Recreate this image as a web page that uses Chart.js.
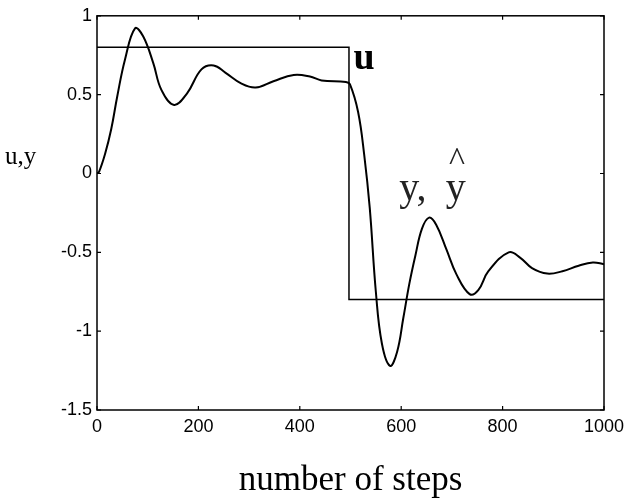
<!DOCTYPE html>
<html><head><meta charset="utf-8">
<script src="https://cdn.jsdelivr.net/npm/chart.js@4/dist/chart.umd.min.js"></script>
<style>html,body{margin:0;padding:0;background:#fff}#wrap{width:632px;height:502px}</style>
</head><body><div id="wrap"><canvas id="c" width="632" height="502"></canvas></div>
<script>
// ---- data ----
const steps   = [0,4,16,28,40,55,75,91,111,127,152,178,206,230,253,285,313,348,388,420,443,491,499,515,527,538,550,562,578,592,604,616,628,641,655,669,689,709,735,752,772,812,835,858,888,918,950,978,1000];
const yValues = [0,0.01,0.125,0.28,0.49,0.72,0.92,0.87,0.70,0.53,0.435,0.51,0.66,0.685,0.64,0.57,0.545,0.585,0.625,0.615,0.59,0.58,0.565,0.39,0.12,-0.22,-0.75,-1.08,-1.22,-1.13,-0.92,-0.70,-0.52,-0.35,-0.28,-0.325,-0.48,-0.64,-0.765,-0.74,-0.62,-0.50,-0.535,-0.60,-0.635,-0.62,-0.585,-0.565,-0.575];
const uSteps  = [0,497,497,1000];
const uValues = [0.8,0.8,-0.8,-0.8];
const xTicks  = [0,200,400,600,800,1000];
const yTicks  = [-1.5,-1,-0.5,0,0.5,1];
const xTickLabels = ['0','200','400','600','800','1000'];
const yTickLabels = ['-1.5','-1','-0.5','0','0.5','1'];
const xTitle  = 'number of steps';
const yTitle  = 'u,y';

const SANS = '"Liberation Sans", Arial, sans-serif';
const SERIF = '"Liberation Serif", "Times New Roman", serif';

const framePlugin = {
  id: 'frame',
  afterDraw(chart) {
    const {ctx, chartArea: a, scales: {x, y}} = chart;
    ctx.save();
    ctx.strokeStyle = '#000';
    ctx.lineWidth = 1.5;
    ctx.strokeRect(a.left, a.top, a.right - a.left, a.bottom - a.top);
    ctx.lineWidth = 1.2;
    const L = 4;
    ctx.beginPath();
    xTicks.forEach(v => {
      const px = x.getPixelForValue(v);
      ctx.moveTo(px, a.bottom); ctx.lineTo(px, a.bottom - L);
      ctx.moveTo(px, a.top); ctx.lineTo(px, a.top + L);
    });
    yTicks.forEach(v => {
      const py = y.getPixelForValue(v);
      ctx.moveTo(a.left, py); ctx.lineTo(a.left + L, py);
      ctx.moveTo(a.right, py); ctx.lineTo(a.right - L, py);
    });
    ctx.stroke();

    ctx.fillStyle = '#000';
    ctx.textAlign = 'left';
    ctx.textBaseline = 'alphabetic';
    // y axis label (horizontal)
    ctx.font = '25px ' + SERIF;
    ctx.fillText(yTitle, 5, 164);
    // annotations
    ctx.font = 'bold 38px ' + SERIF;
    ctx.fillText('u', x.getPixelForValue(506), y.getPixelForValue(0.66));
    ctx.fillStyle = '#222';
    ctx.font = '40px ' + SERIF;
    ctx.fillText('y,', x.getPixelForValue(596), y.getPixelForValue(-0.168));
    ctx.fillText('y', x.getPixelForValue(688), y.getPixelForValue(-0.168));
    ctx.textAlign = 'center';
    ctx.font = '34px ' + SERIF;
    ctx.fillText('^', x.getPixelForValue(710), y.getPixelForValue(0.02));
    ctx.restore();
  }
};

new Chart(document.getElementById('c'), {
  type: 'line',
  data: {
    datasets: [
      {
        label: 'u',
        data: uSteps.map((s, i) => ({x: s, y: uValues[i]})),
        borderColor: '#000', borderWidth: 1.5, pointRadius: 0, tension: 0, fill: false
      },
      {
        label: 'y',
        data: steps.map((s, i) => ({x: s, y: yValues[i]})),
        borderColor: '#000', borderWidth: 2, pointRadius: 0,
        tension: 0.4, fill: false
      }
    ]
  },
  options: {
    responsive: false,
    devicePixelRatio: 1,
    animation: false,
    layout: {padding: {top: 12, right: 28, left: 0, bottom: 0}},
    plugins: {legend: {display: false}, tooltip: {enabled: false}},
    scales: {
      x: {
        type: 'linear', min: 0, max: 1000,
        afterBuildTicks: s => { s.ticks = xTicks.map(v => ({value: v})); },
        afterFit: s => { s.height = 92; },
        grid: {display: false, drawTicks: false},
        border: {display: false},
        ticks: {color: '#000', font: {family: SANS, size: 18}, padding: 6, maxRotation: 0, autoSkip: false,
                callback: (v) => xTickLabels[xTicks.indexOf(v)]},
        title: {display: true, text: xTitle, color: '#000', font: {family: SERIF, size: 35}, padding: {top: 0, bottom: 0}}
      },
      y: {
        type: 'linear', min: -1.5, max: 1,
        afterBuildTicks: s => { s.ticks = yTicks.map(v => ({value: v})); },
        afterFit: s => { s.width = 97; },
        grid: {display: false, drawTicks: false},
        border: {display: false},
        ticks: {color: '#000', font: {family: SANS, size: 18}, padding: 5,
                callback: (v) => yTickLabels[yTicks.indexOf(v)]}
      }
    }
  },
  plugins: [framePlugin]
});
</script>
</body></html>
